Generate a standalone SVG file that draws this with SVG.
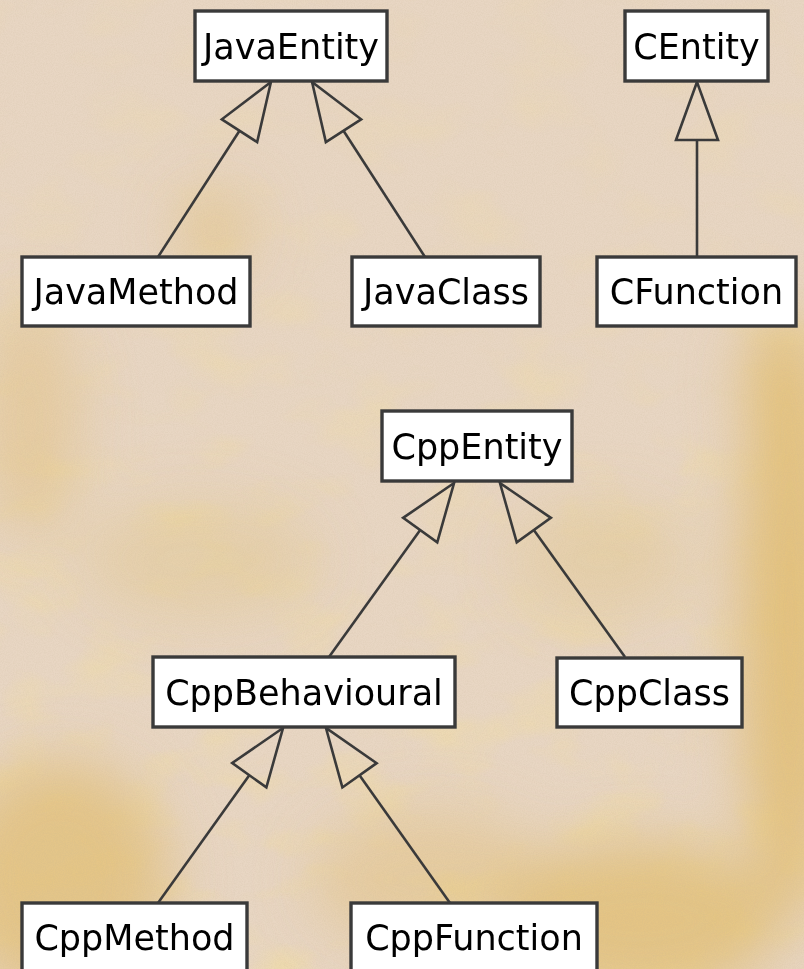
<svg xmlns="http://www.w3.org/2000/svg" width="804" height="969" viewBox="0 0 804 969">
  <defs>
    <style>
      .node rect { fill: #ffffff; stroke: #3a3a3a; stroke-width: 3.4; }
      .node text { font-family: "DejaVu Sans", Verdana, sans-serif; font-size: 35px; fill: #000000; text-anchor: middle; }
      .edge { stroke: #3a3a3a; stroke-width: 2.6; fill: none; marker-end: url(#hollow); }
    </style>
    <!-- hollow generalisation triangle; the line stops at its base -->
    <marker id="hollow" markerUnits="userSpaceOnUse" viewBox="-3 -24 64 48" markerWidth="64" markerHeight="48" refX="0" refY="0" orient="auto" overflow="visible">
      <path d="M58,0 L0,-21 L0,21 Z" fill="none" stroke="#3a3a3a" stroke-width="2.6" stroke-linejoin="miter"/>
    </marker>
    <filter id="soft" x="-50%" y="-50%" width="200%" height="200%">
      <feGaussianBlur stdDeviation="28"/>
    </filter>
    <filter id="grain" x="0" y="0" width="100%" height="100%">
      <feTurbulence type="fractalNoise" baseFrequency="0.9" numOctaves="2" seed="4" result="n"/>
      <feColorMatrix type="matrix" values="0 0 0 0 0.55  0 0 0 0 0.45  0 0 0 0 0.30  0 0 0 0.9 -0.35"/>
    </filter>
    <filter id="mottle" x="0" y="0" width="100%" height="100%">
      <feTurbulence type="fractalNoise" baseFrequency="0.012 0.02" numOctaves="3" seed="11" result="n"/>
      <feColorMatrix type="matrix" values="0 0 0 0 0.87  0 0 0 0 0.71  0 0 0 0 0.38  0 0 0 2.2 -1.05"/>
    </filter>
    <linearGradient id="fadeDown" x1="0" y1="0" x2="0" y2="1">
      <stop offset="0" stop-color="#fff" stop-opacity="0.25"/>
      <stop offset="0.6" stop-color="#fff" stop-opacity="0.6"/>
      <stop offset="1" stop-color="#fff" stop-opacity="0.85"/>
    </linearGradient>
    <mask id="lowerHeavier">
      <rect x="0" y="0" width="804" height="969" fill="url(#fadeDown)"/>
    </mask>
  </defs>

  <!-- parchment background -->
  <g id="background">
    <rect x="0" y="0" width="804" height="969" fill="#e8d6c3"/>
    <rect x="0" y="0" width="804" height="969" filter="url(#mottle)" mask="url(#lowerHeavier)"/>
    <g filter="url(#soft)" fill="#e2bf75">
      <ellipse cx="60" cy="880" rx="110" ry="120" opacity="0.75"/>
      <ellipse cx="640" cy="920" rx="140" ry="80" opacity="0.8"/>
      <ellipse cx="790" cy="620" rx="50" ry="300" opacity="0.9"/>
      <ellipse cx="780" cy="380" rx="40" ry="70" opacity="0.6"/>
      <ellipse cx="215" cy="230" rx="35" ry="40" opacity="0.6"/>
      <ellipse cx="30" cy="420" rx="50" ry="120" opacity="0.45"/>
      <ellipse cx="430" cy="880" rx="120" ry="70" opacity="0.45"/>
      <ellipse cx="600" cy="560" rx="90" ry="60" opacity="0.3"/>
      <ellipse cx="200" cy="560" rx="120" ry="60" opacity="0.3"/>
    </g>
    <rect x="0" y="0" width="804" height="969" filter="url(#grain)" opacity="0.35"/>
  </g>

  <!-- generalisation connectors, child to parent -->
  <g id="connectors">
    <line class="edge" x1="158" y1="257" x2="239.5" y2="130.7"/>
    <line class="edge" x1="425" y1="257" x2="343.5" y2="130.7"/>
    <line class="edge" x1="697" y1="257" x2="697" y2="140"/>
    <line class="edge" x1="329" y1="657" x2="420.2" y2="530.1"/>
    <line class="edge" x1="625" y1="657" x2="533.8" y2="530.1"/>
    <line class="edge" x1="158" y1="903" x2="249.3" y2="775.2"/>
    <line class="edge" x1="450" y1="903" x2="359.5" y2="775.3"/>
  </g>

  <g id="JavaEntity" class="node">
    <rect x="195" y="11" width="192" height="70"/>
    <text x="291" y="58.5">JavaEntity</text>
  </g>
  <g id="CEntity" class="node">
    <rect x="625" y="11" width="143" height="70"/>
    <text x="696.5" y="58.5">CEntity</text>
  </g>
  <g id="JavaMethod" class="node">
    <rect x="22" y="257" width="228" height="69"/>
    <text x="136" y="304">JavaMethod</text>
  </g>
  <g id="JavaClass" class="node">
    <rect x="352" y="257" width="188" height="69"/>
    <text x="446" y="304">JavaClass</text>
  </g>
  <g id="CFunction" class="node">
    <rect x="597" y="257" width="199" height="69"/>
    <text x="696.5" y="304">CFunction</text>
  </g>
  <g id="CppEntity" class="node">
    <rect x="382" y="411" width="190" height="70"/>
    <text x="477" y="458.5">CppEntity</text>
  </g>
  <g id="CppBehavioural" class="node">
    <rect x="153" y="657" width="302" height="70"/>
    <text x="304" y="704.5">CppBehavioural</text>
  </g>
  <g id="CppClass" class="node">
    <rect x="557" y="658" width="185" height="69"/>
    <text x="649.5" y="705">CppClass</text>
  </g>
  <g id="CppMethod" class="node">
    <rect x="22" y="903" width="225" height="72"/>
    <text x="134.5" y="950">CppMethod</text>
  </g>
  <g id="CppFunction" class="node">
    <rect x="351" y="903" width="246" height="72"/>
    <text x="474" y="950">CppFunction</text>
  </g>
</svg>
